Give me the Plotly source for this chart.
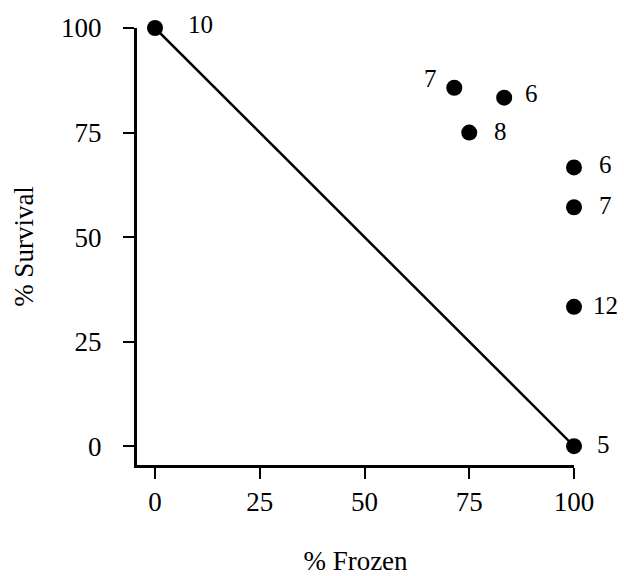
import plotly.graph_objects as go

# Data
frozen = [0, 5/7*100, 5/6*100, 75, 100, 100, 100, 100]
survival = [100, 6/7*100, 5/6*100, 75, 2/3*100, 4/7*100, 1/3*100, 0]
n_labels = ["10", "7", "6", "8", "6", "7", "12", "5"]
line_x = [0, 100]
line_y = [100, 0]
ticks = [0, 25, 50, 75, 100]

# label offsets (style): (xshift px, yshift px, anchor)
label_style = [(31, 4, "left"), (-15, 9, "right"), (19, 4, "left"), (23, 1, "left"),
               (23, 3, "left"), (23, 2, "left"), (17, 1, "left"), (21, 2, "left")]

font = "Liberation Serif, Times New Roman, serif"

fig = go.Figure()
fig.add_trace(go.Scatter(x=line_x, y=line_y, mode="lines",
                         line=dict(color="black", width=2.5),
                         cliponaxis=False, hoverinfo="skip"))
fig.add_trace(go.Scatter(x=frozen, y=survival, mode="markers",
                         marker=dict(color="black", size=16),
                         cliponaxis=False))

for x, y, t, (dx, dy, anc) in zip(frozen, survival, n_labels, label_style):
    fig.add_annotation(x=x, y=y, text=t, showarrow=False, xanchor=anc,
                       xshift=dx, yshift=dy, font=dict(family=font, size=25, color="black"))

axis_common = dict(showgrid=False, zeroline=False, showline=True, linecolor="black",
                   linewidth=3, ticks="outside", ticklen=11, tickwidth=2,
                   tickcolor="black", tickvals=ticks, automargin=False,
                   tickfont=dict(family=font, size=27, color="black"))

fig.update_layout(
    width=624, height=576,
    margin=dict(l=137, r=50, t=28, b=111),
    plot_bgcolor="white", paper_bgcolor="white",
    showlegend=False,
    xaxis=dict(range=[-4.3, 100], title=dict(text="% Frozen", standoff=62,
               font=dict(family=font, size=27, color="black")), **axis_common),
    yaxis=dict(range=[-4.5, 100], title=dict(text="% Survival", standoff=20,
               font=dict(family=font, size=27, color="black")), **axis_common),
)
fig.update_xaxes(ticklabelstandoff=0)
fig.update_yaxes(ticklabelstandoff=16)

fig.write_html("out.html")
